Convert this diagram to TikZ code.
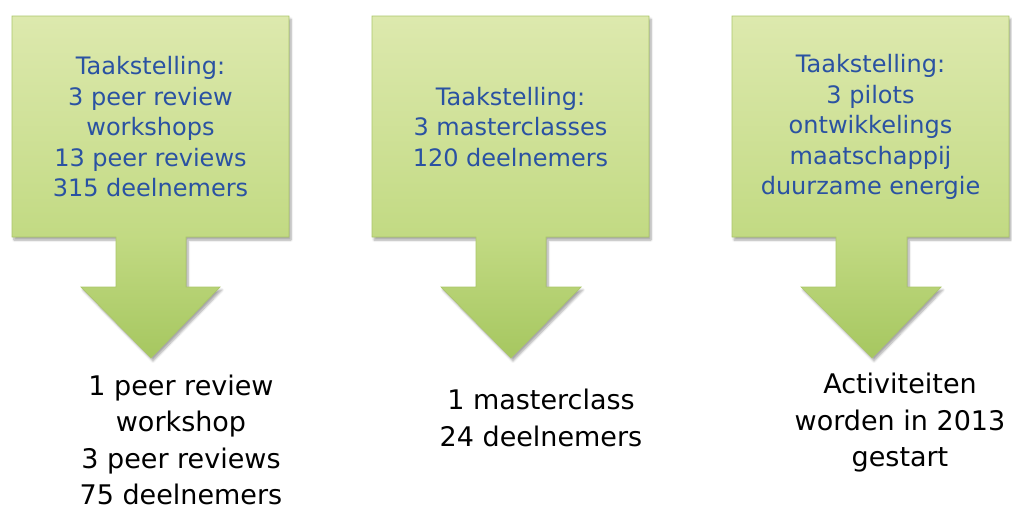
\documentclass[tikz,border=0pt]{standalone}
\usepackage{fontspec}
\setmainfont{DejaVu Sans}
\usetikzlibrary{shadows,shadows.blur}
\definecolor{gtop}{HTML}{DDE9AE}
\definecolor{gmid}{HTML}{C2DA83}
\definecolor{gbot}{HTML}{A6C760}
\definecolor{gline}{HTML}{ABC66A}
\definecolor{txtblue}{HTML}{2A52A2}
\pgfdeclareverticalshading{greenfade}{100bp}{color(0bp)=(gbot); color(25bp)=(gbot); color(43bp)=(gmid); color(75bp)=(gtop); color(100bp)=(gtop)}
\tikzset{
  callout/.style={shading=greenfade, draw=gline, line width=0.7pt,
    blur shadow={shadow xshift=2pt, shadow yshift=-3pt, shadow blur steps=6, shadow opacity=35}},
  boxtext/.style={align=center, text=txtblue, font=\fontsize{24}{30.5}\selectfont, inner sep=0pt},
  restext/.style={align=center, text=black, font=\fontsize{27}{36.5}\selectfont, inner sep=0pt}
}
\begin{document}
\begin{tikzpicture}[x=1pt,y=-1pt]
\useasboundingbox (0,0) rectangle (1012,512);
% callout 1
\path[callout] (12,16) -- (289,16) -- (289,237) -- (186,237) -- (186,287) -- (220,287) -- (151,358) -- (81,287) -- (116,287) -- (116,237) -- (12,237) -- cycle;
% callout 2
\path[callout] (372,16) -- (649,16) -- (649,237) -- (546,237) -- (546,287) -- (581,287) -- (511,358) -- (441,287) -- (476,287) -- (476,237) -- (372,237) -- cycle;
% callout 3
\path[callout] (732,16) -- (1009,16) -- (1009,237) -- (907,237) -- (907,287) -- (941,287) -- (872,358) -- (801,287) -- (836,287) -- (836,237) -- (732,237) -- cycle;

\node[boxtext] (t1) at (150.5,127) {Taakstelling:\\3 peer review\\workshops\\13 peer reviews\\315 deelnemers};
\node[boxtext] (t2) at (510.5,127) {Taakstelling:\\3 masterclasses\\120 deelnemers};
\node[boxtext] (t3) at (870.5,127) {Taakstelling:\\3 pilots\\ontwikkelings\\maatschappij\\duurzame energie};

\node[restext] (r1) at (181,440) {1 peer review\\workshop\\3 peer reviews\\75 deelnemers};
\node[restext] (r2) at (541,418) {1 masterclass\\24 deelnemers};
\node[restext] (r3) at (900,423) {Activiteiten\\worden in 2013\\gestart};
\end{tikzpicture}
\end{document}
